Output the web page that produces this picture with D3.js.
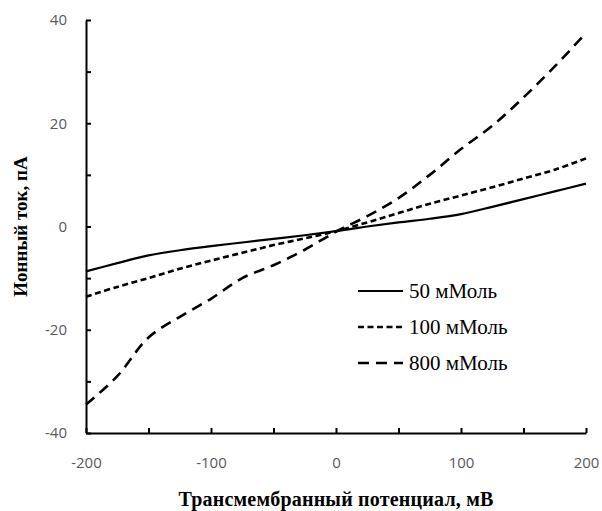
<!DOCTYPE html>
<html>
<head>
<meta charset="utf-8">
<script src="https://cdn.jsdelivr.net/npm/d3@7"></script>
<style>
  body { margin: 0; background: #fff; }
  .tick text { font-family: "Open Sans", sans-serif; font-size: 15px; fill: #595959; }
</style>
</head>
<body>
<div id="chart"></div>
<script>
// Potential values, mV
const potential = [-200, -175, -150, -125, -100, -75, -50, -25, 0, 25, 50, 75, 100, 125, 150, 175, 200];

// Ion current, pA
const current50 = [-8.7, -7.1, -5.6, -4.6, -3.8, -3.1, -2.4, -1.7, -0.9, 0, 0.8, 1.5, 2.4, 3.8, 5.3, 6.8, 8.3];
const current100 = [-13.6, -11.7, -10, -8.2, -6.6, -5.1, -3.6, -2.3, -0.9, 0.8, 2.6, 4.4, 6, 7.6, 9.3, 11, 13.2];
const current800 = [-34.5, -29, -21.5, -17.5, -14, -10, -7.5, -4.5, -1, 2, 5.5, 10, 15, 19.5, 25, 31, 37.5];

const seriesNames = ["50 мМоль", "100 мМоль", "800 мМоль"];
const xTicks = [-200, -150, -100, -50, 0, 50, 100, 150, 200];
const yTicks = [-40, -30, -20, -10, 0, 10, 20, 30, 40];

function drawChart() {
  const W = 602, H = 511;
  const margin = { top: 20, right: 16, bottom: 78, left: 86 };
  const width = W - margin.left - margin.right;
  const height = H - margin.top - margin.bottom;

  const svg = d3.select("#chart")
    .append("svg")
    .attr("width", W)
    .attr("height", H)
    .append("g")
    .attr("transform", `translate(${margin.left},${margin.top})`);

  const x = d3.scaleLinear().domain([-200, 200]).range([0, width]);
  const y = d3.scaleLinear().domain([-40, 40]).range([height, 0]);

  // Axes (ticks point inward)
  const xAxis = svg.append("g")
    .attr("transform", `translate(0,${height})`)
    .call(d3.axisBottom(x).tickValues(xTicks).tickSizeInner(-5).tickSizeOuter(0)
      .tickPadding(24).tickFormat((d) => (d % 100 === 0 ? d : "")));

  const yAxis = svg.append("g")
    .call(d3.axisLeft(y).tickValues(yTicks).tickSizeInner(-5).tickSizeOuter(0)
      .tickPadding(19).tickFormat((d) => (d % 20 === 0 ? d : "")));

  [xAxis, yAxis].forEach((a) => {
    a.select(".domain").attr("stroke", "#000").attr("stroke-width", 2);
    a.selectAll(".tick line").attr("stroke", "#000").attr("stroke-width", 2);
  });

  // Lines
  const styles = [
    { dash: null, width: 2.2 },
    { dash: "6,3.5", width: 2.6 },
    { dash: "11,7", width: 2.6 },
  ];
  const allSeries = [current50, current100, current800];

  const line = d3.line()
    .x((d) => x(d[0]))
    .y((d) => y(d[1]))
    .curve(d3.curveCatmullRom.alpha(0.5));

  allSeries.forEach((vals, i) => {
    svg.append("path")
      .datum(potential.map((p, j) => [p, vals[j]]))
      .attr("fill", "none")
      .attr("stroke", "#000")
      .attr("stroke-width", styles[i].width)
      .attr("stroke-dasharray", styles[i].dash)
      .attr("d", line);
  });

  // Legend
  const legend = svg.append("g").attr("transform", `translate(${358 - margin.left},${291 - margin.top})`);
  seriesNames.forEach((name, i) => {
    const g = legend.append("g").attr("transform", `translate(0,${i * 36})`);
    g.append("line")
      .attr("x1", 0).attr("x2", 45)
      .attr("stroke", "#000")
      .attr("stroke-width", styles[i].width)
      .attr("stroke-dasharray", styles[i].dash);
    g.append("text")
      .attr("x", 51)
      .attr("dy", "0.33em")
      .style("font-family", "'Liberation Serif', serif")
      .style("font-size", "21px")
      .attr("fill", "#000")
      .text(name);
  });

  // X axis title
  svg.append("text")
    .attr("x", width / 2)
    .attr("y", 506 - margin.top)
    .attr("text-anchor", "middle")
    .style("font-family", "'Liberation Serif', serif")
    .style("font-weight", "bold")
    .style("font-size", "20px")
    .style("letter-spacing", "0.2px")
    .text("Трансмембранный потенциал, мВ");

  // Y axis title
  svg.append("text")
    .attr("transform", `translate(${27 - margin.left},${height / 2}) rotate(-90)`)
    .attr("text-anchor", "middle")
    .style("font-family", "'Liberation Serif', serif")
    .style("font-weight", "bold")
    .style("font-size", "19px")
    .text("Ионный ток, пА");
}

drawChart();
</script>
</body>
</html>
